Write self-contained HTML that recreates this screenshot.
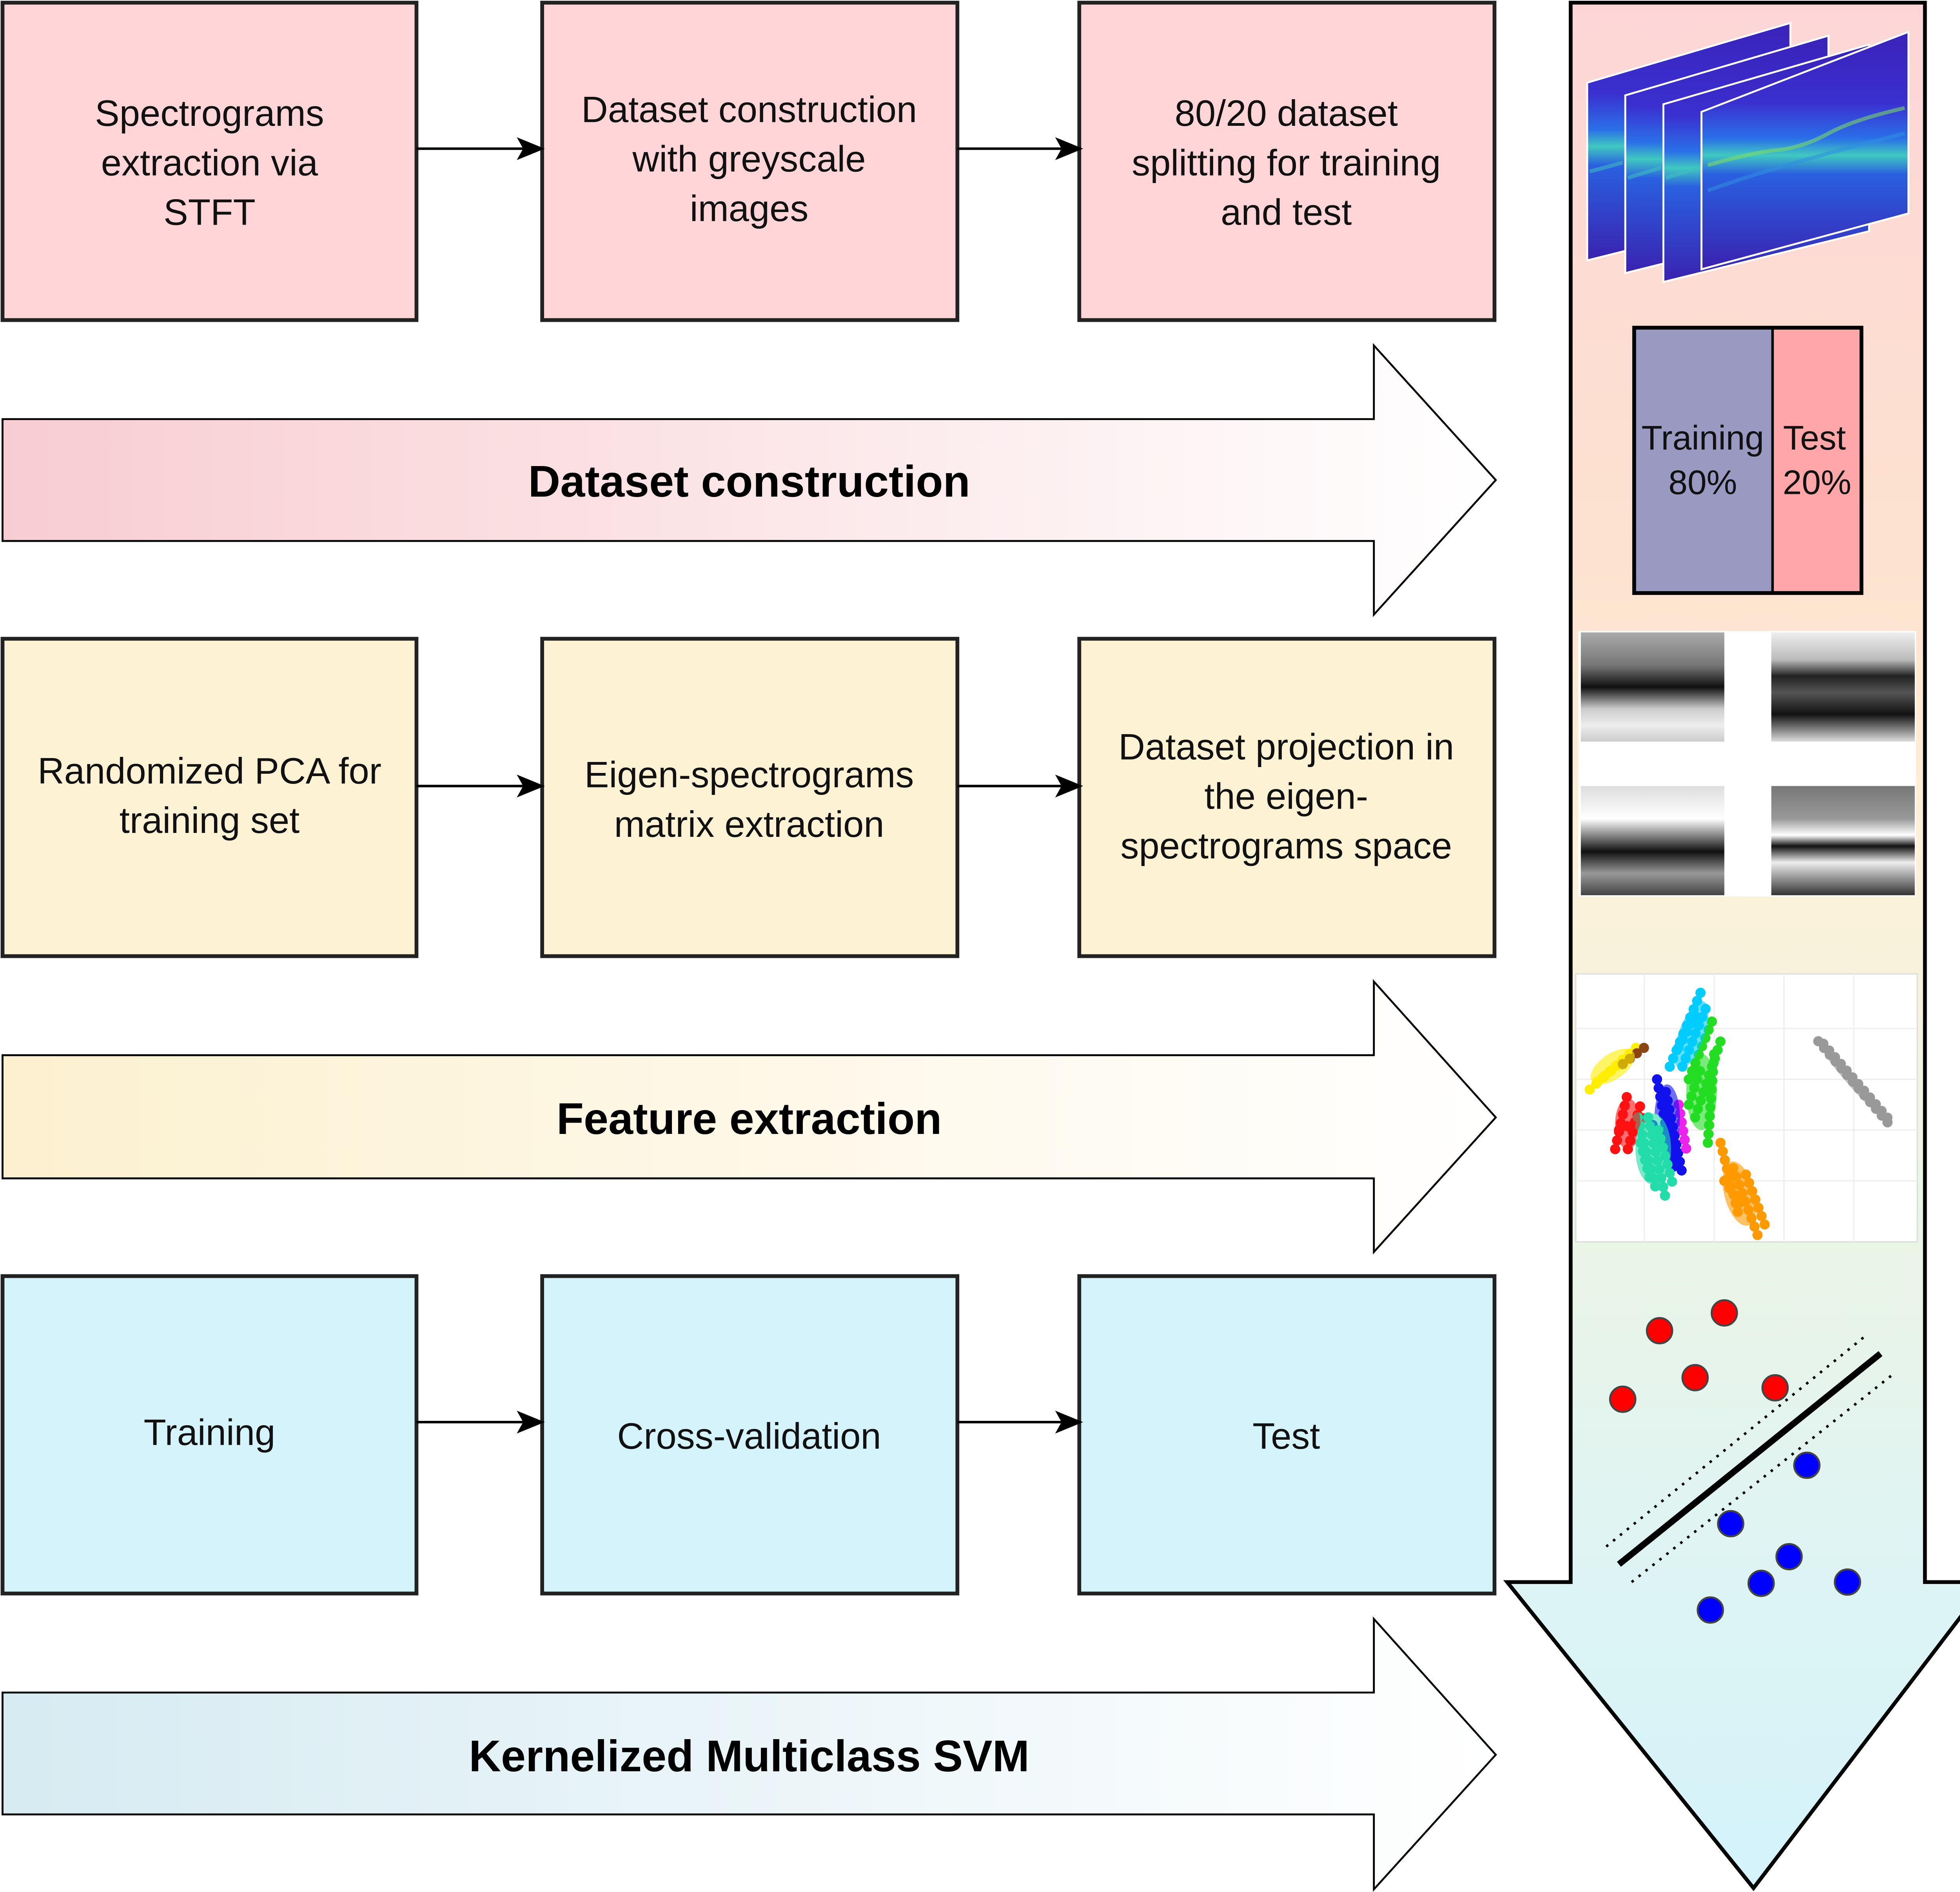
<!DOCTYPE html>
<html><head><meta charset="utf-8"><style>
html,body{margin:0;padding:0;background:#fff;}
svg{display:block;}
text{font-family:"Liberation Sans",Arial,sans-serif;}
</style></head><body>
<svg width="5079" height="4827" viewBox="0 0 1568 1490" xmlns="http://www.w3.org/2000/svg">
<defs>
<linearGradient id="g1" x1="0" x2="1" y1="0" y2="0"><stop offset="0" stop-color="#f8cdd1"/><stop offset="1" stop-color="#ffffff"/></linearGradient>
<linearGradient id="g2" x1="0" x2="1" y1="0" y2="0"><stop offset="0" stop-color="#fcf0cf"/><stop offset="1" stop-color="#ffffff"/></linearGradient>
<linearGradient id="g3" x1="0" x2="1" y1="0" y2="0"><stop offset="0" stop-color="#d6ebf2"/><stop offset="1" stop-color="#ffffff"/></linearGradient>
<linearGradient id="gd" x1="0" x2="0" y1="0" y2="1"><stop offset="0" stop-color="#fdd5d7"/><stop offset="0.3" stop-color="#fde3cf"/><stop offset="0.45" stop-color="#fdf1d8"/><stop offset="0.62" stop-color="#eef5e3"/><stop offset="0.8" stop-color="#e0f4f2"/><stop offset="1" stop-color="#d3f3fb"/></linearGradient>
<linearGradient id="spec" x1="0" x2="0" y1="0" y2="1"><stop offset="0" stop-color="#3a22b8"/><stop offset="0.3" stop-color="#3a30d0"/><stop offset="0.45" stop-color="#2a70e8"/><stop offset="0.52" stop-color="#40c8c0"/><stop offset="0.6" stop-color="#2a60e0"/><stop offset="1" stop-color="#3a22b0"/></linearGradient>
<linearGradient id="gr1" x1="0" x2="0" y1="0" y2="1"><stop offset="0" stop-color="#aaa"/><stop offset="0.3" stop-color="#777"/><stop offset="0.5" stop-color="#111"/><stop offset="0.7" stop-color="#ccc"/><stop offset="0.85" stop-color="#eee"/><stop offset="1" stop-color="#ccc"/></linearGradient>
<linearGradient id="gr2" x1="0" x2="0" y1="0" y2="1"><stop offset="0" stop-color="#eee"/><stop offset="0.25" stop-color="#bbb"/><stop offset="0.4" stop-color="#222"/><stop offset="0.55" stop-color="#555"/><stop offset="0.75" stop-color="#111"/><stop offset="1" stop-color="#ddd"/></linearGradient>
<linearGradient id="gr3" x1="0" x2="0" y1="0" y2="1"><stop offset="0" stop-color="#ddd"/><stop offset="0.3" stop-color="#fff"/><stop offset="0.6" stop-color="#111"/><stop offset="0.8" stop-color="#999"/><stop offset="1" stop-color="#444"/></linearGradient>
<linearGradient id="gr4" x1="0" x2="0" y1="0" y2="1"><stop offset="0" stop-color="#777"/><stop offset="0.3" stop-color="#999"/><stop offset="0.45" stop-color="#fff"/><stop offset="0.55" stop-color="#111"/><stop offset="0.7" stop-color="#eee"/><stop offset="1" stop-color="#333"/></linearGradient>
<marker id="ah" markerWidth="22" markerHeight="18" refX="20" refY="9" orient="auto" markerUnits="userSpaceOnUse"><path d="M0,0 L22,9 L0,18 L5,9 z" fill="#000"/></marker>
</defs>

<path d="M1237,2 L1516,2 L1516,1246 L1565,1246 L1381,1487 L1187,1246 L1237,1246 Z" fill="url(#gd)" stroke="#000" stroke-width="3"/>

<path d="M2,330 L1082,330 L1082,272 L1178,378 L1082,484 L1082,426 L2,426 Z" fill="url(#g1)" stroke="#000" stroke-width="1.5"/>
<text x="590" y="391" font-size="35" font-weight="bold" text-anchor="middle">Dataset construction</text>
<path d="M2,831 L1082,831 L1082,773 L1178,880 L1082,986 L1082,928 L2,928 Z" fill="url(#g2)" stroke="#000" stroke-width="1.5"/>
<text x="590" y="893" font-size="35" font-weight="bold" text-anchor="middle">Feature extraction</text>
<path d="M2,1333 L1082,1333 L1082,1275 L1178,1382 L1082,1488 L1082,1429 L2,1429 Z" fill="url(#g3)" stroke="#000" stroke-width="1.5"/>
<text x="590" y="1395" font-size="35" font-weight="bold" text-anchor="middle">Kernelized Multiclass SVM</text>

<g stroke="#222" stroke-width="3">
<rect x="2" y="2" width="326" height="250" fill="#ffd5d7"/>
<rect x="427" y="2" width="327" height="250" fill="#ffd5d7"/>
<rect x="850" y="2" width="327" height="250" fill="#ffd5d7"/>
<rect x="2" y="503" width="326" height="250" fill="#fdf3d4"/>
<rect x="427" y="503" width="327" height="250" fill="#fdf3d4"/>
<rect x="850" y="503" width="327" height="250" fill="#fdf3d4"/>
<rect x="2" y="1005" width="326" height="250" fill="#d4f3fb"/>
<rect x="427" y="1005" width="327" height="250" fill="#d4f3fb"/>
<rect x="850" y="1005" width="327" height="250" fill="#d4f3fb"/>
</g>
<g stroke="#000" stroke-width="2" marker-end="url(#ah)">
<line x1="328" y1="117" x2="427" y2="117"/><line x1="754" y1="117" x2="851" y2="117"/>
<line x1="328" y1="619" x2="427" y2="619"/><line x1="754" y1="619" x2="851" y2="619"/>
<line x1="328" y1="1120" x2="427" y2="1120"/><line x1="754" y1="1120" x2="851" y2="1120"/>
</g>
<g font-size="29" text-anchor="middle" fill="#111">
<text x="165" y="99">Spectrograms</text><text x="165" y="138">extraction via</text><text x="165" y="177">STFT</text>
<text x="590" y="96">Dataset construction</text><text x="590" y="135">with greyscale</text><text x="590" y="174">images</text>
<text x="1013" y="99">80/20 dataset</text><text x="1013" y="138">splitting for training</text><text x="1013" y="177">and test</text>
<text x="165" y="617">Randomized PCA for</text><text x="165" y="656">training set</text>
<text x="590" y="620">Eigen-spectrograms</text><text x="590" y="659">matrix extraction</text>
<text x="1013" y="598">Dataset projection in</text><text x="1013" y="637">the eigen-</text><text x="1013" y="676">spectrograms space</text>
<text x="165" y="1138">Training</text>
<text x="590" y="1141">Cross-validation</text>
<text x="1013" y="1141">Test</text>
</g>

<g stroke="#fff" stroke-width="1.5">
<path d="M1250,65 L1410,18 L1410,165 L1250,205 Z" fill="url(#spec)"/>
<path d="M1280,75 L1440,28 L1440,175 L1280,215 Z" fill="url(#spec)"/>
<path d="M1310,82 L1472,35 L1472,182 L1310,222 Z" fill="url(#spec)"/>
<path d="M1340,88 L1503,25 L1503,168 L1340,212 Z" fill="url(#spec)"/>
</g>
<g fill="none" stroke-width="3" opacity="0.55">
<path d="M1345,130 Q1380,120 1400,118 T1440,105 T1500,85" stroke="#80e060"/>
<path d="M1345,150 Q1400,130 1500,105" stroke="#3090e0"/>
<path d="M1252,135 L1278,128 M1282,140 L1308,132 M1312,140 L1338,132" stroke="#40c0c0"/>
</g>

<rect x="1287" y="258" width="109" height="209" fill="#9999c1"/>
<rect x="1396" y="258" width="70" height="209" fill="#ffa6a8"/>
<rect x="1287" y="258" width="179" height="209" fill="none" stroke="#000" stroke-width="3"/>
<line x1="1396" y1="258" x2="1396" y2="467" stroke="#000" stroke-width="2"/>
<g font-size="27" text-anchor="middle" fill="#111">
<text x="1341" y="354">Training</text><text x="1341" y="389">80%</text>
<text x="1429" y="354">Test</text><text x="1431" y="389">20%</text>
</g>

<rect x="1243" y="497" width="266" height="209" fill="#fff"/>
<rect x="1245" y="498" width="113" height="86" fill="url(#gr1)"/>
<rect x="1395" y="498" width="113" height="86" fill="url(#gr2)"/>
<rect x="1245" y="619" width="113" height="86" fill="url(#gr3)"/>
<rect x="1395" y="619" width="113" height="86" fill="url(#gr4)"/>

<rect x="1241" y="767" width="269" height="211" fill="#fff" stroke="#ddd"/>
<g stroke="#eee" stroke-width="1">
<line x1="1295" y1="767" x2="1295" y2="978"/><line x1="1350" y1="767" x2="1350" y2="978"/><line x1="1405" y1="767" x2="1405" y2="978"/><line x1="1460" y1="767" x2="1460" y2="978"/>
<line x1="1241" y1="810" x2="1510" y2="810"/><line x1="1241" y1="850" x2="1510" y2="850"/><line x1="1241" y1="890" x2="1510" y2="890"/><line x1="1241" y1="930" x2="1510" y2="930"/>
</g>
<g stroke-width="8" stroke-linecap="round" stroke-dasharray="0,7" fill="none">
<path d="M1252,858 L1292,822 M1258,852 L1285,830" stroke="#ffee00"/>
<path d="M1278,838 L1295,825" stroke="#8b4513"/>
<path d="M1315,840 L1340,780 M1325,840 L1345,790 M1322,825 L1335,800" stroke="#00ccff"/>
<path d="M1330,850 L1350,800 M1335,880 L1355,820 M1345,900 L1350,830 M1330,870 L1340,840" stroke="#22dd22"/>
<path d="M1272,905 L1282,860 M1282,905 L1292,870 M1275,890 L1295,880" stroke="#ff1111"/>
<path d="M1305,850 L1318,920 M1312,860 L1325,925 M1298,880 L1310,900" stroke="#1111ee"/>
<path d="M1290,880 L1305,940 M1298,880 L1312,945 M1306,890 L1318,935 M1292,900 L1300,930" stroke="#22ddaa"/>
<path d="M1322,870 L1328,905" stroke="#ee22ee"/>
<path d="M1355,900 L1370,960 M1365,920 L1385,975 M1375,925 L1390,965 M1358,930 L1372,950" stroke="#ff9900"/>
<path d="M1432,820 L1490,888 M1436,822 L1488,882" stroke="#999"/>
</g>
<g opacity="0.6">
<ellipse cx="1270" cy="840" rx="20" ry="10" fill="#ffee00" transform="rotate(-35 1270 840)"/>
<ellipse cx="1332" cy="815" rx="10" ry="28" fill="#00ccff" transform="rotate(20 1332 815)"/>
<ellipse cx="1340" cy="860" rx="12" ry="30" fill="#22dd22"/>
<ellipse cx="1282" cy="885" rx="10" ry="20" fill="#ff1111"/>
<ellipse cx="1313" cy="880" rx="10" ry="26" fill="#1111ee"/>
<ellipse cx="1302" cy="905" rx="14" ry="28" fill="#22ddaa"/>
<ellipse cx="1370" cy="940" rx="12" ry="26" fill="#ff9900" transform="rotate(-15 1370 940)"/>
<ellipse cx="1462" cy="855" rx="40" ry="4" fill="#999" transform="rotate(48 1462 855)"/>
</g>

<line x1="1265" y1="1218" x2="1468" y2="1053" stroke="#000" stroke-width="2" stroke-dasharray="2,5"/>
<line x1="1285" y1="1246" x2="1490" y2="1083" stroke="#000" stroke-width="2" stroke-dasharray="2,5"/>
<line x1="1275" y1="1232" x2="1481" y2="1066" stroke="#000" stroke-width="5"/>
<g fill="#ff0000" stroke="#444" stroke-width="1.5">
<circle cx="1307" cy="1048" r="10"/><circle cx="1358" cy="1034" r="10"/><circle cx="1335" cy="1085" r="10"/><circle cx="1398" cy="1093" r="10"/><circle cx="1278" cy="1102" r="10"/>
</g>
<g fill="#0000ff" stroke="#444" stroke-width="1.5">
<circle cx="1423" cy="1154" r="10"/><circle cx="1363" cy="1200" r="10"/><circle cx="1409" cy="1226" r="10"/><circle cx="1387" cy="1247" r="10"/><circle cx="1455" cy="1246" r="10"/><circle cx="1347" cy="1268" r="10"/>
</g>
</svg>
</body></html>
